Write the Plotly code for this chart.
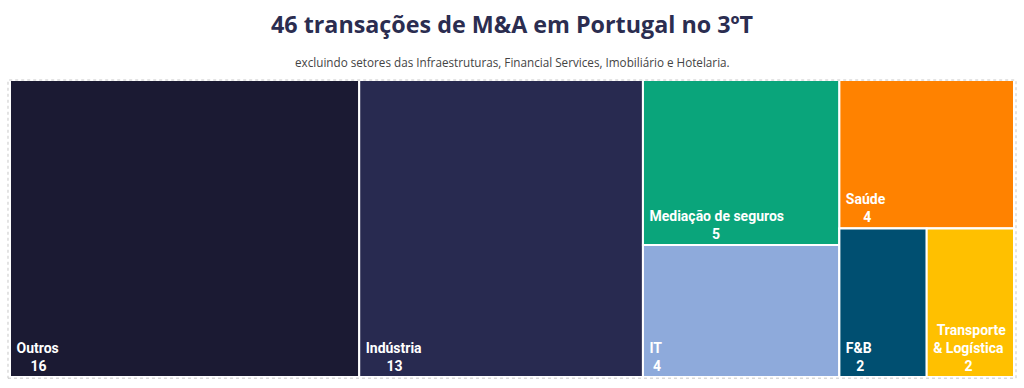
import plotly.graph_objects as go

# Data
sectors = ["Outros", "Indústria", "Mediação de seguros", "IT", "Saúde", "F&B", "Transporte<br>& Logística"]
deals = [16, 13, 5, 4, 4, 2, 2]
colors = ["#1b1a33", "#282a50", "#0aa57b", "#8eaadb", "#ff8200", "#004f71", "#ffc000"]

# Layout grouping (hierarchy used only to reproduce the tile arrangement)
groups = {"g1": "", "g2": "", "g3": "g2"}
sector_parent = ["", "", "g1", "g1", "g2", "g3", "g3"]

NBSP = "\u00a0"


def char_w(c):
    if c in " \u00a0":
        return 0.25
    if c.isdigit():
        return 0.562
    if c in "iltrjfíI":
        return 0.30
    if c == "&":
        return 0.63
    if c.isupper():
        return 0.66
    return 0.56


def text_w(s):
    return sum(char_w(c) for c in s)


def centered_label(label, value):
    lines = label.split("<br>") + [str(value)]
    widths = [text_w(l) for l in lines]
    wmax = max(widths)
    out = []
    for l, w in zip(lines, widths):
        n = int(round((wmax - w) / 2 / 0.25))
        out.append(NBSP * (1 + n) + l)
    return "<br>".join(out)


ids = list(sectors)
labels = list(sectors)
parents = list(sector_parent)
values = list(deals)
cols = list(colors)
texts = [centered_label(s, v) for s, v in zip(sectors, deals)]


def group_total(g):
    tot = 0
    for s, p, v in zip(sectors, sector_parent, deals):
        if p == g:
            tot += v
    for gg, pp in groups.items():
        if pp == g:
            tot += group_total(gg)
    return tot


for g, p in groups.items():
    ids.append(g)
    labels.append("")
    parents.append(p)
    values.append(group_total(g))
    cols.append("#ffffff")
    texts.append("")

order_ids = ["Outros", "Indústria", "g1", "Mediação de seguros", "IT", "g2", "Saúde", "g3",
             "F&B", "Transporte<br>& Logística"]
idx = [ids.index(i) for i in order_ids]
ids = [ids[i] for i in idx]
labels = [labels[i] for i in idx]
parents = [parents[i] for i in idx]
values = [values[i] for i in idx]
cols = [cols[i] for i in idx]
texts = [texts[i] for i in idx]

fig = go.Figure(go.Treemap(
    ids=ids,
    labels=labels,
    parents=parents,
    values=values,
    branchvalues="total",
    sort=False,
    tiling=dict(packing="slice-dice", pad=0),
    marker=dict(colors=cols, line=dict(color="white", width=2), pad=dict(t=0, l=0, r=0, b=0),
                depthfade=False),
    text=texts,
    texttemplate="%{text}",
    textposition="bottom left",
    textfont=dict(family="Roboto", size=14, color="white", weight="bold"),
    pathbar=dict(visible=False),
    hoverinfo="label+value",
))

fig.update_layout(
    width=1024, height=388,
    margin=dict(l=10, r=10, t=80, b=11),
    paper_bgcolor="white",
    title=dict(text="<b>46 transações de M&A em Portugal no 3ºT</b>", x=0.5, xanchor="center",
               y=0.935, yanchor="middle",
               font=dict(family="Open Sans", size=23.3, color="#2b2d50")),
    annotations=[dict(text="excluindo setores das Infraestruturas, Financial Services, Imobiliário e Hotelaria.",
                      xref="paper", yref="paper", x=0.5, y=1.0, yshift=18, showarrow=False,
                      xanchor="center", yanchor="middle",
                      font=dict(family="Open Sans", size=11.7, color="#444444"))],
    shapes=[dict(type="rect", xref="paper", yref="paper", x0=-0.002, x1=1.002, y0=-0.004, y1=1.0,
                 line=dict(color="#c8c8c8", width=1, dash="dot"))],
)

fig.write_html("out.html", config={"displayModeBar": False},
               post_script="document.body.style.margin='0px';")
